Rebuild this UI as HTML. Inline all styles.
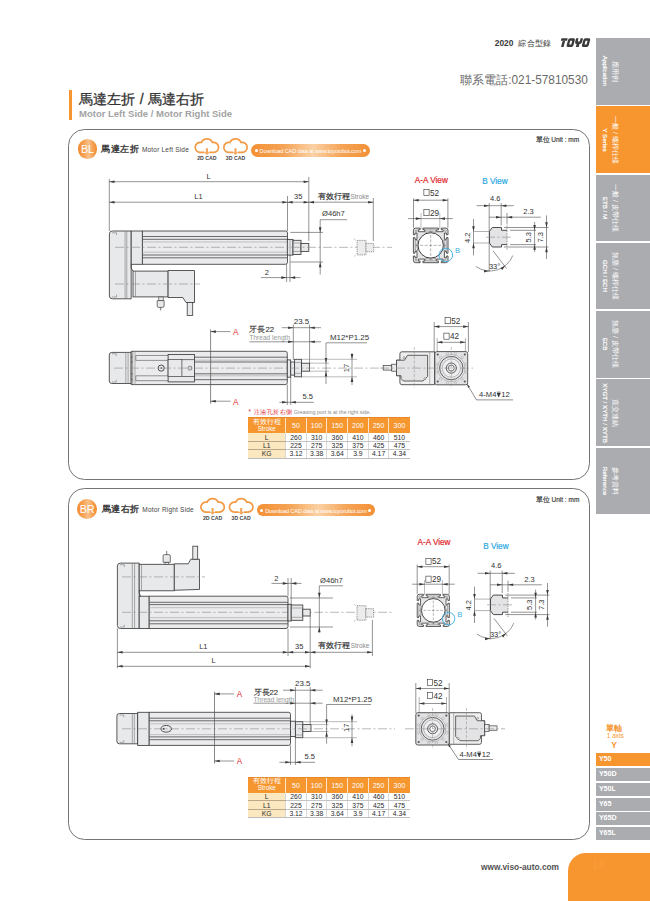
<!DOCTYPE html>
<html><head><meta charset="utf-8">
<style>
*{margin:0;padding:0;box-sizing:border-box}
html,body{width:650px;height:901px;background:#fff;overflow:hidden}
body{position:relative;font-family:"Liberation Sans",sans-serif;color:#333}
.a{position:absolute;white-space:nowrap;line-height:1}
.tab{position:absolute;left:596px;width:54px;height:66.5px;background:#abacaf;color:#fff}
.tab.on{background:#f7952f}
.tab .r{position:absolute;left:14.2px;top:50%;transform:translate(-50%,-50%) rotate(90deg);text-align:center;line-height:10.1px;white-space:nowrap}
.tab .cn{font-size:7px;font-weight:500;display:block;height:10.1px}
.tab .en{font-size:6.2px;display:block;height:10.1px;-webkit-text-stroke:0.2px #fff}
.yl{position:absolute;left:595.6px;width:54.4px;height:13px;background:#abacaf;color:#fff;font-weight:bold;font-size:7.1px;line-height:13.6px;padding-left:3.3px}
.yl.on{background:#f7952f}
.panel{position:absolute;left:68.23px;width:521.5px;height:351.8px;border:1.5px solid #747474;border-radius:16.5px}
.badge{position:absolute;width:19.8px;height:19.8px;border-radius:50%;background:linear-gradient(90deg,#f28a2a 0%,#f5a65c 35%,#f8c08a 55%,#f5a65c 75%,#f28a2a 100%);color:#fff;font-size:10.8px;line-height:20.5px;text-align:center;letter-spacing:-0.3px}
.pill{position:absolute;white-space:nowrap;height:12.5px;border-radius:7px;background:linear-gradient(90deg,#f39034 0%,#f5a457 28%,#fbd1a4 52%,#f5a457 76%,#f39034 100%);color:#fff;font-size:5.6px;letter-spacing:-0.15px;line-height:14px;padding-left:8.6px}
.pill:before,.pill:after{content:"";position:absolute;top:4.8px;width:3px;height:3px;border-radius:50%;background:#fff}
.pill:before{left:3.5px}.pill:after{right:3.5px}
table.t{position:absolute;border-collapse:collapse;font-size:6.8px;color:#2a2a2a}
table.t td{border-left:0.9px solid #d9d9d9;border-bottom:0.9px solid #c4c4c4;text-align:center;padding:0;height:8.3px;line-height:7px;width:20.65px}
table.t td:first-child{border-left:none}
table.t tr.h td{background:#f5962f;color:#fff;height:15.5px;font-size:7px;border-left:0.9px solid #fbe3c8;border-bottom:none;border-top:0.8px solid #e8862a}
table.t tr.h td:first-child{border-left:none}
table.t tr:last-child td{border-bottom:1.8px solid #bdbdbd}
table.t td.f{background:#fce8c0;width:37.4px;border-bottom-color:#bba98a}
table.t tr.h td.f{background:#f5962f;line-height:6.8px;font-size:7px;font-weight:500}
</style></head><body>

<!-- header -->
<div class="a" style="left:494.8px;top:38.6px;font-size:8.4px;font-weight:bold;color:#3a3a3a">2020</div>
<div class="a" style="left:518.4px;top:38.8px;font-size:8.3px;letter-spacing:0.3px;color:#3a3a3a">綜合型錄</div>

<div class="a" style="left:460.2px;top:74.5px;font-size:11.85px;color:#6a6a6a">聯系電話:021-57810530</div>

<!-- title -->
<div class="a" style="left:68.5px;top:90px;width:3.2px;height:30px;background:#f7952f"></div>
<div class="a" style="left:79px;top:92px;font-size:14.15px;letter-spacing:0.15px;font-weight:500;color:#333;-webkit-text-stroke:0.3px #333">馬達左折 / 馬達右折</div>
<div class="a" style="left:79px;top:108.5px;font-size:9.5px;font-weight:bold;color:#a3a3a3">Motor Left Side / Motor Right Side</div>

<!-- sidebar tabs -->
<div class="tab" style="top:38.20px"><div class="r"><span class="cn">應用例</span><span class="en">Application</span></div></div>
<div class="tab on" style="top:106.45px"><div class="r"><span class="cn">一般 / 螺桿仕樣</span><span class="en">Y Series</span></div></div>
<div class="tab" style="top:174.70px"><div class="r"><span class="cn">一般 / 皮帶仕樣</span><span class="en">ETB / M</span></div></div>
<div class="tab" style="top:242.95px"><div class="r"><span class="cn">無塵 / 螺桿仕樣</span><span class="en">GCH / ECH</span></div></div>
<div class="tab" style="top:311.20px"><div class="r"><span class="cn">無塵 / 皮帶仕樣</span><span class="en">ECB</span></div></div>
<div class="tab" style="top:379.45px"><div class="r"><span class="cn">直交連結</span><span class="en">XYGT / XYTH / XYTB</span></div></div>
<div class="tab" style="top:447.70px"><div class="r"><span class="cn">參考資料</span><span class="en">Reference</span></div></div>

<!-- Y list -->
<div class="a" style="left:606px;top:724.5px;font-size:8px;font-weight:bold;color:#f7952f">單軸</div>
<div class="a" style="left:606.8px;top:733.2px;font-size:6.5px;color:#f7952f">1 axis</div>
<div class="a" style="left:611.2px;top:740.5px;font-size:8.5px;font-weight:bold;color:#f7952f">Y</div>
<div class="yl on" style="top:753px">Y50</div>
<div class="yl" style="top:768px">Y50D</div>
<div class="yl" style="top:783px">Y50L</div>
<div class="yl" style="top:797.7px">Y65</div>
<div class="yl" style="top:812.3px">Y65D</div>
<div class="yl" style="top:827px">Y65L</div>

<!-- footer -->
<div class="a" style="left:481px;top:862.5px;font-size:8.36px;font-weight:bold;color:#555">www.viso-auto.com</div>
<div class="a" style="left:568.3px;top:852.5px;width:82px;height:49px;background:#f7952f;border-top-left-radius:18px"></div>
<div class="a" style="left:591.5px;top:858px;font-size:13px;font-weight:bold;color:#f99b38">16</div>

<!-- panels -->
<div class="panel" style="top:128.7px"></div>
<div class="panel" style="top:488.15px"></div>

<!-- panel 1 header -->
<div class="badge" style="left:77.5px;top:139.3px">BL</div>
<div class="a" style="left:101.2px;top:145.4px;font-size:9.2px;letter-spacing:0.5px;font-weight:500;color:#333;-webkit-text-stroke:0.35px #333">馬達左折</div>
<div class="a" style="left:141.9px;top:146.8px;font-size:6.5px;letter-spacing:0.2px;color:#444">Motor Left Side</div>
<div class="pill" style="left:251px;top:144px;width:118.5px">Download CAD data at www.toyorobot.com</div>
<div class="a" style="left:535.5px;top:137px;font-size:6.5px;color:#444;-webkit-text-stroke:0.2px #444">單位 Unit : mm</div>

<!-- panel 2 header -->
<div class="badge" style="left:77.1px;top:499.1px">BR</div>
<div class="a" style="left:101.8px;top:505.2px;font-size:9.2px;letter-spacing:0.5px;font-weight:500;color:#333;-webkit-text-stroke:0.35px #333">馬達右折</div>
<div class="a" style="left:142.3px;top:506.6px;font-size:6.5px;letter-spacing:0.2px;color:#444">Motor Right Side</div>
<div class="pill" style="left:256.6px;top:503.9px;width:118px">Download CAD data at www.toyorobot.com</div>
<div class="a" style="left:535.7px;top:496.7px;font-size:6.5px;color:#444;-webkit-text-stroke:0.2px #444">單位 Unit : mm</div>

<!-- tables -->
<table class="t" style="left:248.3px;top:417.2px">
<tr class="h"><td class="f">有效行程<br><span style="font-size:6.3px;font-weight:normal">Stroke</span></td><td>50</td><td>100</td><td>150</td><td>200</td><td>250</td><td>300</td></tr>
<tr><td class="f">L</td><td>260</td><td>310</td><td>360</td><td>410</td><td>460</td><td>510</td></tr>
<tr><td class="f">L1</td><td>225</td><td>275</td><td>325</td><td>375</td><td>425</td><td>475</td></tr>
<tr><td class="f">KG</td><td>3.12</td><td>3.38</td><td>3.64</td><td>3.9</td><td>4.17</td><td>4.34</td></tr>
</table>
<table class="t" style="left:248.3px;top:776.6px">
<tr class="h"><td class="f">有效行程<br><span style="font-size:6.3px;font-weight:normal">Stroke</span></td><td>50</td><td>100</td><td>150</td><td>200</td><td>250</td><td>300</td></tr>
<tr><td class="f">L</td><td>260</td><td>310</td><td>360</td><td>410</td><td>460</td><td>510</td></tr>
<tr><td class="f">L1</td><td>225</td><td>275</td><td>325</td><td>375</td><td>425</td><td>475</td></tr>
<tr><td class="f">KG</td><td>3.12</td><td>3.38</td><td>3.64</td><td>3.9</td><td>4.17</td><td>4.34</td></tr>
</table>

<!-- DRAWINGS -->
<svg class="a" style="left:0;top:0" width="650" height="901" viewBox="0 0 650 901">
<g font-family="Liberation Sans, sans-serif">
<g transform="translate(561.5 38.3) skewX(-15)" fill="#3a3a3a">
<rect x="0" y="0" width="6.2" height="2.5"/><rect x="1.85" y="2.5" width="2.5" height="6.1"/>
<path fill-rule="evenodd" d="M8.6 0 H12.2 Q13.8 0 13.8 1.6 V7 Q13.8 8.6 12.2 8.6 H8.6 Q7 8.6 7 7 V1.6 Q7 0 8.6 0 Z M9.4 2.4 V6.2 H11.4 V2.4 Z"/>
<path d="M14.6 0 H17 V2.6 Q17 3.3 17.7 3.3 H18.4 Q19.1 3.3 19.1 2.6 V0 H21.5 V3.6 Q21.5 5.6 19.5 5.6 H19.5 V8.6 H16.6 V5.6 Q14.6 5.6 14.6 3.6 Z"/>
<path fill-rule="evenodd" d="M23.9 0 H27.5 Q29.1 0 29.1 1.6 V7 Q29.1 8.6 27.5 8.6 H23.9 Q22.3 8.6 22.3 7 V1.6 Q22.3 0 23.9 0 Z M24.7 2.4 V6.2 H26.7 V2.4 Z"/>
</g>
<g transform="translate(195.20 138.90)">
<path d="M9.3 13.5 H5 A5 5 0 1 1 6.18 3.64 A6 6 0 0 1 17.22 3.64 A5 5 0 1 1 18.4 13.5 H14.1" fill="none" stroke="#f39a45" stroke-width="1.7"/>
<path d="M10.6 9.3 H12.8 V13.4 H14.6 L11.7 16.2 L8.8 13.4 H10.6 Z" fill="#f6a85e"/>
<text x="11.7" y="21.5" font-size="5.2" font-weight="bold" fill="#444" text-anchor="middle">2D CAD</text>
</g>
<g transform="translate(223.80 138.90)">
<path d="M9.3 13.5 H5 A5 5 0 1 1 6.18 3.64 A6 6 0 0 1 17.22 3.64 A5 5 0 1 1 18.4 13.5 H14.1" fill="none" stroke="#f39a45" stroke-width="1.7"/>
<path d="M10.6 9.3 H12.8 V13.4 H14.6 L11.7 16.2 L8.8 13.4 H10.6 Z" fill="#f6a85e"/>
<text x="11.7" y="21.5" font-size="5.2" font-weight="bold" fill="#444" text-anchor="middle">3D CAD</text>
</g>
<g transform="translate(200.90 498.60)">
<path d="M9.3 13.5 H5 A5 5 0 1 1 6.18 3.64 A6 6 0 0 1 17.22 3.64 A5 5 0 1 1 18.4 13.5 H14.1" fill="none" stroke="#f39a45" stroke-width="1.7"/>
<path d="M10.6 9.3 H12.8 V13.4 H14.6 L11.7 16.2 L8.8 13.4 H10.6 Z" fill="#f6a85e"/>
<text x="11.7" y="21.5" font-size="5.2" font-weight="bold" fill="#444" text-anchor="middle">2D CAD</text>
</g>
<g transform="translate(229.50 498.60)">
<path d="M9.3 13.5 H5 A5 5 0 1 1 6.18 3.64 A6 6 0 0 1 17.22 3.64 A5 5 0 1 1 18.4 13.5 H14.1" fill="none" stroke="#f39a45" stroke-width="1.7"/>
<path d="M10.6 9.3 H12.8 V13.4 H14.6 L11.7 16.2 L8.8 13.4 H10.6 Z" fill="#f6a85e"/>
<text x="11.7" y="21.5" font-size="5.2" font-weight="bold" fill="#444" text-anchor="middle">3D CAD</text>
</g>
<path d="M131.2 231 L112.4 231 Q109.4 231 109.4 234 L109.4 295.8 Q109.4 298.8 112.4 298.8 L131.2 298.8 Z" fill="#e8e9eb" stroke="#3c3c3c" stroke-width="0.85" />
<rect x="131.20" y="231.00" width="11.20" height="33.30" fill="#e8e9eb" stroke="#3c3c3c" stroke-width="0.85" />
<path d="M142.4 231 L285.5 231 Q287.5 231 287.5 233 L287.5 262.3 Q287.5 264.3 285.5 264.3 L142.4 264.3 Z" fill="#ebebed" stroke="#3c3c3c" stroke-width="0.85" />
<line x1="142.40" y1="236.50" x2="287.50" y2="236.50" stroke="#505050" stroke-width="0.85" />
<line x1="142.40" y1="239.30" x2="287.50" y2="239.30" stroke="#505050" stroke-width="0.85" />
<line x1="142.40" y1="242.00" x2="287.50" y2="242.00" stroke="#a0a0a0" stroke-width="0.6" />
<line x1="142.40" y1="252.20" x2="287.50" y2="252.20" stroke="#a0a0a0" stroke-width="0.6" />
<line x1="142.40" y1="255.00" x2="287.50" y2="255.00" stroke="#505050" stroke-width="0.85" />
<line x1="142.40" y1="257.80" x2="287.50" y2="257.80" stroke="#505050" stroke-width="0.85" />
<line x1="125.10" y1="231.00" x2="125.10" y2="298.80" stroke="#777" stroke-width="0.6" />
<line x1="126.80" y1="231.00" x2="126.80" y2="298.80" stroke="#777" stroke-width="0.6" />
<path d="M112 232.8 L116.5 232.8 L116.5 235.2" fill="none" stroke="#666" stroke-width="0.5" />
<path d="M112 297 L116.5 297 L116.5 294.6" fill="none" stroke="#666" stroke-width="0.5" />
<rect x="287.30" y="239.40" width="5.70" height="15.70" fill="#e8e9eb" stroke="#3c3c3c" stroke-width="0.85" />
<line x1="290.00" y1="239.40" x2="290.00" y2="255.10" stroke="#666" stroke-width="0.5" />
<rect x="293.00" y="240.30" width="8.00" height="14.20" fill="#e8e9eb" stroke="#3c3c3c" stroke-width="0.85" />
<line x1="293.00" y1="243.00" x2="301.00" y2="243.00" stroke="#666" stroke-width="0.5" />
<line x1="293.00" y1="251.40" x2="301.00" y2="251.40" stroke="#666" stroke-width="0.5" />
<rect x="301.00" y="243.40" width="7.80" height="8.00" fill="#e8e9eb" stroke="#3c3c3c" stroke-width="0.85" />
<rect x="133.00" y="271.10" width="35.10" height="25.80" fill="#e8e9eb" stroke="#3c3c3c" stroke-width="0.85" />
<line x1="135.50" y1="271.10" x2="135.50" y2="296.90" stroke="#777" stroke-width="0.6" />
<path d="M131.2 264.3 L131.2 268 L133 271.1" fill="none" stroke="#3c3c3c" stroke-width="0.85" />
<path d="M168.1 270.5 L194.5 270.5 L194.5 302.5 L186 302.5 L182.8 297.5 L168.1 297.5 Z" fill="#e8e9eb" stroke="#3c3c3c" stroke-width="0.85" />
<rect x="187.20" y="302.50" width="5.50" height="12.90" fill="#e8e9eb" stroke="#3c3c3c" stroke-width="0.8" />
<rect x="158.80" y="297.00" width="4.40" height="3.60" fill="#e8e9eb" stroke="#3c3c3c" stroke-width="0.6" />
<path d="M157.2 300.6 L164.1 300.6 L164.1 306 Q164.1 307.4 162.7 307.4 L158.6 307.4 Q157.2 307.4 157.2 306 Z" fill="#e8e9eb" stroke="#3c3c3c" stroke-width="0.7" />
<line x1="160.70" y1="307.40" x2="160.70" y2="310.50" stroke="#444" stroke-width="0.7" />
<line x1="115.00" y1="247.30" x2="392.00" y2="247.30" stroke="#8a8a8a" stroke-width="0.6" stroke-dasharray="9 2.5 2 2.5"/>
<line x1="115.00" y1="284.00" x2="200.00" y2="284.00" stroke="#8a8a8a" stroke-width="0.6" stroke-dasharray="9 2.5 2 2.5"/>
<rect x="357.10" y="240.40" width="8.90" height="14.50" fill="#ececec" stroke="#707070" stroke-width="0.7" stroke-dasharray="1.3 0.9"/>
<rect x="366.00" y="243.40" width="7.70" height="8.40" fill="#ececec" stroke="#707070" stroke-width="0.7" stroke-dasharray="1.3 0.9"/>
<line x1="354.10" y1="238.80" x2="355.60" y2="240.20" stroke="#777" stroke-width="0.5" />
<line x1="354.10" y1="256.40" x2="355.60" y2="255.00" stroke="#777" stroke-width="0.5" />
<line x1="109.30" y1="179.00" x2="109.30" y2="231.00" stroke="#3a3a3a" stroke-width="0.55" />
<line x1="287.50" y1="196.00" x2="287.50" y2="231.00" stroke="#3a3a3a" stroke-width="0.55" />
<line x1="308.80" y1="177.00" x2="308.80" y2="241.00" stroke="#3a3a3a" stroke-width="0.55" />
<line x1="373.30" y1="198.00" x2="373.30" y2="241.00" stroke="#3a3a3a" stroke-width="0.55" />
<line x1="109.30" y1="181.70" x2="308.80" y2="181.70" stroke="#3a3a3a" stroke-width="0.55" />
<path d="M109.30 181.70L114.50 180.40L114.50 183.00Z" fill="#3a3a3a"/>
<path d="M308.80 181.70L303.60 183.00L303.60 180.40Z" fill="#3a3a3a"/>
<text x="208.70" y="178.80" font-size="7.5" fill="#333" text-anchor="middle" >L</text>
<line x1="109.30" y1="202.20" x2="373.30" y2="202.20" stroke="#3a3a3a" stroke-width="0.55" />
<path d="M109.30 202.20L114.50 200.90L114.50 203.50Z" fill="#3a3a3a"/>
<path d="M287.50 202.20L282.30 203.50L282.30 200.90Z" fill="#3a3a3a"/>
<text x="198.50" y="199.20" font-size="7.5" fill="#333" text-anchor="middle" >L1</text>
<path d="M287.50 202.20L292.70 200.90L292.70 203.50Z" fill="#3a3a3a"/>
<path d="M308.80 202.20L303.60 203.50L303.60 200.90Z" fill="#3a3a3a"/>
<text x="298.20" y="198.90" font-size="7.5" fill="#333" text-anchor="middle" >35</text>
<path d="M308.80 202.20L314.00 200.90L314.00 203.50Z" fill="#3a3a3a"/>
<path d="M373.30 202.20L368.10 203.50L368.10 200.90Z" fill="#3a3a3a"/>
<text x="318" y="199.1" font-size="7.8" fill="#333" stroke="#333" stroke-width="0.2">有效行程<tspan font-size="6.4" fill="#888" stroke="none" dx="0.5">Stroke</tspan></text>
<text x="322.00" y="216.10" font-size="7.6" fill="#333" text-anchor="start" >Ø46h7</text>
<line x1="320.20" y1="219.70" x2="347.00" y2="219.70" stroke="#3a3a3a" stroke-width="0.55" />
<line x1="320.20" y1="219.70" x2="320.20" y2="274.50" stroke="#3a3a3a" stroke-width="0.55" />
<path d="M320.20 232.40L318.90 227.20L321.50 227.20Z" fill="#3a3a3a"/>
<path d="M320.20 262.00L321.50 267.20L318.90 267.20Z" fill="#3a3a3a"/>
<line x1="290.30" y1="232.40" x2="323.00" y2="232.40" stroke="#3a3a3a" stroke-width="0.55" />
<line x1="290.30" y1="262.00" x2="323.00" y2="262.00" stroke="#3a3a3a" stroke-width="0.55" />
<line x1="261.00" y1="277.60" x2="300.50" y2="277.60" stroke="#3a3a3a" stroke-width="0.55" />
<path d="M286.60 277.60L281.40 278.90L281.40 276.30Z" fill="#3a3a3a"/>
<path d="M290.00 277.60L295.20 276.30L295.20 278.90Z" fill="#3a3a3a"/>
<line x1="286.60" y1="264.30" x2="286.60" y2="282.00" stroke="#3a3a3a" stroke-width="0.55" />
<line x1="290.00" y1="255.10" x2="290.00" y2="282.00" stroke="#3a3a3a" stroke-width="0.55" />
<text x="266.80" y="275.20" font-size="7.5" fill="#333" text-anchor="middle" >2</text>
<path d="M131.2 352.4 L111.8 352.4 Q109.3 352.4 109.3 354.9 L109.3 381.0 Q109.3 383.5 111.8 383.5 L131.2 383.5 Z" fill="#e8e9eb" stroke="#3c3c3c" stroke-width="0.85" />
<line x1="125.80" y1="352.40" x2="125.80" y2="383.50" stroke="#777" stroke-width="0.6" />
<line x1="128.10" y1="352.40" x2="128.10" y2="383.50" stroke="#777" stroke-width="0.6" />
<path d="M112 353.8 L116.3 353.8 L116.3 356" fill="none" stroke="#666" stroke-width="0.5" />
<path d="M112 382 L116.3 382 L116.3 379.8" fill="none" stroke="#666" stroke-width="0.5" />
<path d="M131.2 351.3 L285.3 351.3 Q287.3 351.3 287.3 353.3 L287.3 382.6 Q287.3 384.6 285.3 384.6 L131.2 384.6 Z" fill="#ebebed" stroke="#3c3c3c" stroke-width="0.85" />
<line x1="131.20" y1="357.20" x2="287.30" y2="357.20" stroke="#505050" stroke-width="0.85" />
<line x1="131.20" y1="360.20" x2="287.30" y2="360.20" stroke="#a0a0a0" stroke-width="0.6" />
<line x1="131.20" y1="362.00" x2="287.30" y2="362.00" stroke="#505050" stroke-width="0.85" />
<line x1="131.20" y1="373.80" x2="287.30" y2="373.80" stroke="#505050" stroke-width="0.85" />
<line x1="131.20" y1="375.80" x2="287.30" y2="375.80" stroke="#a0a0a0" stroke-width="0.6" />
<line x1="131.20" y1="379.70" x2="287.30" y2="379.70" stroke="#505050" stroke-width="0.85" />
<rect x="132.70" y="355.50" width="35.40" height="25.20" fill="#ebebed" stroke="#3c3c3c" stroke-width="0" />
<line x1="132.70" y1="351.30" x2="132.70" y2="384.60" stroke="#666" stroke-width="0.6" />
<line x1="135.00" y1="351.30" x2="135.00" y2="384.60" stroke="#888" stroke-width="0.6" />
<path d="M168 355.5 L135.8 355.5 L135.8 360.4 L168 360.4" fill="none" stroke="#555" stroke-width="0.6" />
<path d="M168 375.8 L135.8 375.8 L135.8 380.7 L168 380.7" fill="none" stroke="#555" stroke-width="0.6" />
<rect x="168.10" y="354.50" width="26.40" height="27.40" fill="#e9e9eb" stroke="#3c3c3c" stroke-width="0.85" />
<rect x="168.10" y="359.60" width="13.80" height="16.90" fill="#e9e9eb" stroke="#3c3c3c" stroke-width="0.7" />
<line x1="181.90" y1="359.60" x2="194.50" y2="359.60" stroke="#3c3c3c" stroke-width="0.7" />
<line x1="181.90" y1="376.50" x2="194.50" y2="376.50" stroke="#3c3c3c" stroke-width="0.7" />
<circle cx="161.20" cy="368.10" r="3.10" fill="#e8e8e8" stroke="#3c3c3c" stroke-width="0.9" />
<circle cx="161.20" cy="368.10" r="0.80" fill="#444" stroke="#3c3c3c" stroke-width="0" />
<circle cx="189.90" cy="368.10" r="2.00" fill="none" stroke="#3c3c3c" stroke-width="0.6" />
<rect x="287.30" y="359.90" width="3.40" height="17.30" fill="#e8e9eb" stroke="#3c3c3c" stroke-width="0.85" />
<rect x="290.70" y="362.00" width="3.90" height="13.10" fill="#e8e9eb" stroke="#3c3c3c" stroke-width="0.85" />
<rect x="294.60" y="359.30" width="7.00" height="17.50" fill="#e8e9eb" stroke="#3c3c3c" stroke-width="0.85" />
<line x1="294.60" y1="362.50" x2="301.60" y2="362.50" stroke="#666" stroke-width="0.5" />
<line x1="294.60" y1="373.30" x2="301.60" y2="373.30" stroke="#666" stroke-width="0.5" />
<rect x="301.60" y="363.20" width="8.00" height="8.00" fill="#e8e9eb" stroke="#3c3c3c" stroke-width="0.85" />
<line x1="114.00" y1="368.10" x2="395.00" y2="368.10" stroke="#8a8a8a" stroke-width="0.6" stroke-dasharray="9 2.5 2 2.5"/>
<line x1="309.60" y1="363.20" x2="329.00" y2="363.20" stroke="#777" stroke-width="0.5" />
<line x1="309.60" y1="371.20" x2="329.00" y2="371.20" stroke="#777" stroke-width="0.5" />
<line x1="210.60" y1="329.40" x2="210.60" y2="403.70" stroke="#555" stroke-width="0.7" />
<line x1="210.60" y1="331.60" x2="230.50" y2="331.60" stroke="#3a3a3a" stroke-width="0.55" />
<path d="M210.60 331.60L215.80 330.30L215.80 332.90Z" fill="#3a3a3a"/>
<line x1="210.60" y1="401.20" x2="230.50" y2="401.20" stroke="#3a3a3a" stroke-width="0.55" />
<path d="M210.60 401.20L215.80 399.90L215.80 402.50Z" fill="#3a3a3a"/>
<text x="235.80" y="334.90" font-size="8.2" fill="#e2262c" text-anchor="middle" >A</text>
<text x="235.80" y="404.50" font-size="8.2" fill="#e2262c" text-anchor="middle" >A</text>
<line x1="293.30" y1="324.50" x2="293.30" y2="360.00" stroke="#3a3a3a" stroke-width="0.55" />
<line x1="309.60" y1="324.50" x2="309.60" y2="363.20" stroke="#3a3a3a" stroke-width="0.55" />
<line x1="281.80" y1="327.70" x2="321.00" y2="327.70" stroke="#3a3a3a" stroke-width="0.55" />
<path d="M293.30 327.70L288.10 329.00L288.10 326.40Z" fill="#3a3a3a"/>
<path d="M309.60 327.70L314.80 326.40L314.80 329.00Z" fill="#3a3a3a"/>
<text x="301.50" y="323.90" font-size="8" fill="#333" text-anchor="middle" >23.5</text>
<text x="249.40" y="332.00" font-size="7.8" fill="#333" text-anchor="start" stroke="#333" stroke-width="0.1">牙長22</text>
<text x="249.40" y="339.60" font-size="6.6" fill="#999" text-anchor="start" >Thread length</text>
<line x1="249.40" y1="341.80" x2="321.00" y2="341.80" stroke="#3a3a3a" stroke-width="0.55" />
<path d="M293.30 341.80L288.10 343.10L288.10 340.50Z" fill="#3a3a3a"/>
<path d="M309.60 341.80L314.80 340.50L314.80 343.10Z" fill="#3a3a3a"/>
<text x="330.00" y="340.40" font-size="7.9" fill="#333" text-anchor="start" >M12*P1.25</text>
<line x1="326.00" y1="342.80" x2="367.00" y2="342.80" stroke="#3a3a3a" stroke-width="0.55" />
<line x1="326.00" y1="343.00" x2="326.00" y2="384.00" stroke="#3a3a3a" stroke-width="0.55" />
<path d="M326.00 363.20L324.70 358.00L327.30 358.00Z" fill="#3a3a3a"/>
<path d="M326.00 371.20L327.30 376.40L324.70 376.40Z" fill="#3a3a3a"/>
<line x1="301.00" y1="359.30" x2="357.00" y2="359.30" stroke="#777" stroke-width="0.5" />
<line x1="301.00" y1="376.80" x2="357.00" y2="376.80" stroke="#777" stroke-width="0.5" />
<line x1="352.00" y1="353.00" x2="352.00" y2="385.00" stroke="#3a3a3a" stroke-width="0.55" />
<path d="M352.00 359.30L350.70 354.10L353.30 354.10Z" fill="#3a3a3a"/>
<path d="M352.00 376.80L353.30 382.00L350.70 382.00Z" fill="#3a3a3a"/>
<text x="349.00" y="368.00" font-size="7.5" fill="#333" text-anchor="middle" transform="rotate(-90 349.00 368.00)">17</text>
<line x1="287.30" y1="384.60" x2="287.30" y2="405.00" stroke="#3a3a3a" stroke-width="0.55" />
<line x1="290.70" y1="377.00" x2="290.70" y2="405.00" stroke="#3a3a3a" stroke-width="0.55" />
<line x1="279.40" y1="402.30" x2="313.80" y2="402.30" stroke="#3a3a3a" stroke-width="0.55" />
<path d="M287.30 402.30L282.10 403.60L282.10 401.00Z" fill="#3a3a3a"/>
<path d="M290.70 402.30L295.90 401.00L295.90 403.60Z" fill="#3a3a3a"/>
<text x="307.70" y="399.30" font-size="7.5" fill="#333" text-anchor="middle" >5.5</text>
<text x="431.30" y="182.50" font-size="8.2" fill="#e2262c" text-anchor="middle" stroke="#e2262c" stroke-width="0.2">A-A View</text>
<rect x="423.87" y="189.53" width="5.25" height="6.07" fill="none" stroke="#333" stroke-width="0.6"/>
<text x="430.01" y="195.60" font-size="8.2" fill="#333" text-anchor="start" >52</text>
<line x1="413.50" y1="198.30" x2="413.50" y2="227.80" stroke="#3a3a3a" stroke-width="0.55" />
<line x1="447.90" y1="198.30" x2="447.90" y2="227.80" stroke="#3a3a3a" stroke-width="0.55" />
<line x1="413.50" y1="200.20" x2="447.90" y2="200.20" stroke="#3a3a3a" stroke-width="0.55" />
<path d="M413.50 200.20L418.70 198.90L418.70 201.50Z" fill="#3a3a3a"/>
<path d="M447.90 200.20L442.70 201.50L442.70 198.90Z" fill="#3a3a3a"/>
<rect x="423.87" y="209.63" width="5.25" height="6.07" fill="none" stroke="#333" stroke-width="0.6"/>
<text x="430.01" y="215.70" font-size="8.2" fill="#333" text-anchor="start" >29</text>
<line x1="421.00" y1="213.00" x2="421.00" y2="229.00" stroke="#777" stroke-width="0.5" />
<line x1="439.80" y1="213.00" x2="439.80" y2="229.00" stroke="#777" stroke-width="0.5" />
<line x1="408.00" y1="218.60" x2="452.80" y2="218.60" stroke="#3a3a3a" stroke-width="0.55" />
<path d="M421.00 218.60L415.80 219.90L415.80 217.30Z" fill="#3a3a3a"/>
<path d="M439.80 218.60L445.00 217.30L445.00 219.90Z" fill="#3a3a3a"/>
<path d="M415.60 228.10L420.10 228.10L420.10 229.70L418.30 229.70L418.30 231.70L424.70 231.70L424.70 229.70L422.90 229.70L422.90 228.10L438.50 228.10L438.50 229.70L436.70 229.70L436.70 231.70L443.10 231.70L443.10 229.70L441.30 229.70L441.30 228.10L445.80 228.10Q448.00 228.10 448.00 230.30L448.00 234.80L446.40 234.80L446.40 233.00L444.40 233.00L444.40 239.40L446.40 239.40L446.40 237.60L448.00 237.60L448.00 253.20L446.40 253.20L446.40 251.40L444.40 251.40L444.40 257.80L446.40 257.80L446.40 256.00L448.00 256.00L448.00 260.50Q448.00 262.70 445.80 262.70L441.30 262.70L441.30 261.10L443.10 261.10L443.10 259.10L436.70 259.10L436.70 261.10L438.50 261.10L438.50 262.70L422.90 262.70L422.90 261.10L424.70 261.10L424.70 259.10L418.30 259.10L418.30 261.10L420.10 261.10L420.10 262.70L415.60 262.70Q413.40 262.70 413.40 260.50L413.40 256.00L415.00 256.00L415.00 257.80L417.00 257.80L417.00 251.40L415.00 251.40L415.00 253.20L413.40 253.20L413.40 237.60L415.00 237.60L415.00 239.40L417.00 239.40L417.00 233.00L415.00 233.00L415.00 234.80L413.40 234.80L413.40 230.30Q413.40 228.10 415.60 228.10Z" fill="#e6e6e8" stroke="#3c3c3c" stroke-width="0.85" />
<circle cx="430.70" cy="245.40" r="12.70" fill="#fff" stroke="#3c3c3c" stroke-width="1.0" />
<path d="M425.70 230.00 L435.70 230.00 L435.70 232.32 A14.0 14.0 0 0 0 425.70 232.32 Z" stroke="#555" stroke-width="0.55" fill="#fff"/>
<circle cx="416.00" cy="230.70" r="0.90" fill="#fff" stroke="#555" stroke-width="0.5" />
<path d="M446.10 240.40 L446.10 250.40 L443.78 250.40 A14.0 14.0 0 0 0 443.78 240.40 Z" stroke="#555" stroke-width="0.55" fill="#fff"/>
<circle cx="445.40" cy="230.70" r="0.90" fill="#fff" stroke="#555" stroke-width="0.5" />
<path d="M435.70 260.80 L425.70 260.80 L425.70 258.48 A14.0 14.0 0 0 0 435.70 258.48 Z" stroke="#555" stroke-width="0.55" fill="#fff"/>
<circle cx="445.40" cy="260.10" r="0.90" fill="#fff" stroke="#555" stroke-width="0.5" />
<path d="M415.30 250.40 L415.30 240.40 L417.62 240.40 A14.0 14.0 0 0 0 417.62 250.40 Z" stroke="#555" stroke-width="0.55" fill="#fff"/>
<circle cx="416.00" cy="260.10" r="0.90" fill="#fff" stroke="#555" stroke-width="0.5" />
<line x1="415.70" y1="245.40" x2="445.70" y2="245.40" stroke="#666" stroke-width="0.5" stroke-dasharray="3 1.5"/>
<line x1="430.70" y1="230.40" x2="430.70" y2="260.40" stroke="#666" stroke-width="0.5" stroke-dasharray="3 1.5"/>
<circle cx="445.80" cy="255.00" r="6.80" fill="none" stroke="#3aaee0" stroke-width="0.9" />
<text x="455.00" y="252.60" font-size="7.6" fill="#3aaee0" text-anchor="start" >B</text>
<text x="494.90" y="184.30" font-size="8.2" fill="#2aa8e0" text-anchor="middle" stroke="#2aa8e0" stroke-width="0.2">B View</text>
<g transform="translate(0 0)">
<text x="495.20" y="200.80" font-size="7.5" fill="#333" text-anchor="middle" >4.6</text>
<line x1="476.60" y1="205.70" x2="513.80" y2="205.70" stroke="#3a3a3a" stroke-width="0.55" />
<path d="M489.20 205.70L484.00 207.00L484.00 204.40Z" fill="#3a3a3a"/>
<path d="M501.20 205.70L506.40 204.40L506.40 207.00Z" fill="#3a3a3a"/>
<line x1="489.20" y1="203.00" x2="489.20" y2="272.00" stroke="#3a3a3a" stroke-width="0.55" />
<line x1="501.20" y1="203.00" x2="501.20" y2="225.50" stroke="#3a3a3a" stroke-width="0.55" />
<text x="528.50" y="214.40" font-size="7.5" fill="#333" text-anchor="middle" >2.3</text>
<line x1="489.20" y1="217.20" x2="540.80" y2="217.20" stroke="#3a3a3a" stroke-width="0.55" />
<path d="M501.20 217.20L496.00 218.50L496.00 215.90Z" fill="#3a3a3a"/>
<path d="M507.00 217.20L512.20 215.90L512.20 218.50Z" fill="#3a3a3a"/>
<line x1="507.00" y1="213.00" x2="507.00" y2="223.00" stroke="#3a3a3a" stroke-width="0.55" />
<path d="M507.1 230.3 L501.5 230.3 L501.5 227.5 L492.3 227.5 L489.5 231.4 L489.5 243.1 L492.3 247 L501.5 247 L501.5 244.6 L507.1 244.6 Z" fill="#e4e4e6" stroke="none"/>
<path d="M507.1 230.3 L501.5 230.3 L501.5 227.5 L492.3 227.5 L489.5 231.4 L489.5 243.1 L492.3 247 L501.5 247 L501.5 244.6 L507.1 244.6" fill="none" stroke="#3c3c3c" stroke-width="0.9"/>
<line x1="507.00" y1="223.00" x2="507.00" y2="250.00" stroke="#555" stroke-width="0.55" stroke-dasharray="1.5 1"/>
<line x1="504.00" y1="227.50" x2="548.50" y2="227.50" stroke="#3a3a3a" stroke-width="0.55" />
<line x1="504.00" y1="247.00" x2="548.50" y2="247.00" stroke="#3a3a3a" stroke-width="0.55" />
<line x1="510.00" y1="230.30" x2="536.00" y2="230.30" stroke="#3a3a3a" stroke-width="0.55" />
<line x1="510.00" y1="244.60" x2="536.00" y2="244.60" stroke="#3a3a3a" stroke-width="0.55" />
<line x1="534.60" y1="222.00" x2="534.60" y2="252.00" stroke="#3a3a3a" stroke-width="0.55" />
<path d="M534.60 230.30L533.30 225.10L535.90 225.10Z" fill="#3a3a3a"/>
<path d="M534.60 244.60L535.90 249.80L533.30 249.80Z" fill="#3a3a3a"/>
<text x="531.50" y="237.20" font-size="7.5" fill="#333" text-anchor="middle" transform="rotate(-90 531.50 237.20)">5.3</text>
<line x1="546.50" y1="215.40" x2="546.50" y2="259.00" stroke="#3a3a3a" stroke-width="0.55" />
<path d="M546.50 227.50L545.20 222.30L547.80 222.30Z" fill="#3a3a3a"/>
<path d="M546.50 247.00L547.80 252.20L545.20 252.20Z" fill="#3a3a3a"/>
<text x="543.20" y="237.20" font-size="7.5" fill="#333" text-anchor="middle" transform="rotate(-90 543.20 237.20)">7.3</text>
<line x1="473.50" y1="219.00" x2="473.50" y2="255.40" stroke="#3a3a3a" stroke-width="0.55" />
<path d="M473.50 231.50L472.20 226.30L474.80 226.30Z" fill="#3a3a3a"/>
<path d="M473.50 243.00L474.80 248.20L472.20 248.20Z" fill="#3a3a3a"/>
<line x1="473.50" y1="231.50" x2="489.00" y2="231.50" stroke="#666" stroke-width="0.5" />
<line x1="473.50" y1="243.00" x2="489.00" y2="243.00" stroke="#666" stroke-width="0.5" />
<text x="470.50" y="237.70" font-size="7.5" fill="#333" text-anchor="middle" transform="rotate(-90 470.50 237.70)">4.2</text>
<line x1="486.00" y1="237.20" x2="512.00" y2="237.20" stroke="#8a8a8a" stroke-width="0.6" stroke-dasharray="9 2.5 2 2.5"/>
<path d="M475.9 266.5 A24.5 24.5 0 0 0 512.8 255.5" fill="none" stroke="#444" stroke-width="0.55"/>
<path d="M489.20 271.00L484.07 272.56L483.94 269.96Z" fill="#3a3a3a"/>
<path d="M505.30 265.50L502.26 269.91L500.54 267.96Z" fill="#3a3a3a"/>
<line x1="493.00" y1="250.80" x2="506.50" y2="268.50" stroke="#3a3a3a" stroke-width="0.55" />
<text x="494.60" y="269.00" font-size="7.5" fill="#333" text-anchor="middle" >33°</text>
</g>
<rect x="445.07" y="317.63" width="5.25" height="6.07" fill="none" stroke="#333" stroke-width="0.6"/>
<text x="451.21" y="323.70" font-size="8.2" fill="#333" text-anchor="start" >52</text>
<line x1="434.20" y1="322.00" x2="434.20" y2="352.00" stroke="#3a3a3a" stroke-width="0.55" />
<line x1="468.40" y1="322.00" x2="468.40" y2="352.00" stroke="#3a3a3a" stroke-width="0.55" />
<line x1="434.20" y1="326.60" x2="468.40" y2="326.60" stroke="#3a3a3a" stroke-width="0.55" />
<path d="M434.20 326.60L439.40 325.30L439.40 327.90Z" fill="#3a3a3a"/>
<path d="M468.40 326.60L463.20 327.90L463.20 325.30Z" fill="#3a3a3a"/>
<rect x="443.87" y="333.13" width="5.25" height="6.07" fill="none" stroke="#333" stroke-width="0.6"/>
<text x="450.01" y="339.20" font-size="8.2" fill="#333" text-anchor="start" >42</text>
<line x1="437.20" y1="338.00" x2="437.20" y2="356.00" stroke="#666" stroke-width="0.5" />
<line x1="465.40" y1="338.00" x2="465.40" y2="356.00" stroke="#666" stroke-width="0.5" />
<line x1="437.20" y1="342.30" x2="465.40" y2="342.30" stroke="#3a3a3a" stroke-width="0.55" />
<path d="M437.20 342.30L442.40 341.00L442.40 343.60Z" fill="#3a3a3a"/>
<path d="M465.40 342.30L460.20 343.60L460.20 341.00Z" fill="#3a3a3a"/>
<path d="M401.9 351.8 H434.5 V384.7 H401.9 Q399.9 384.7 399.9 382.7 V375.7 H396.5 V360.2 H399.9 V353.8 Q399.9 351.8 401.9 351.8 Z" fill="#efeff0" stroke="#3c3c3c" stroke-width="0.85" />
<path d="M427.6 355.3 V376.5 L423 381 H403.4 L401 378.5 V375.7 H396.5 V360.2 H404.5 L407.5 355.3 Z" fill="#e3e3e5" stroke="#3c3c3c" stroke-width="0.8" />
<circle cx="404.00" cy="357.60" r="1.00" fill="#fff" stroke="#555" stroke-width="0.5" />
<circle cx="424.90" cy="378.80" r="1.00" fill="#fff" stroke="#555" stroke-width="0.5" />
<line x1="429.70" y1="351.80" x2="429.70" y2="384.70" stroke="#888" stroke-width="0.6" />
<rect x="391.70" y="364.20" width="4.80" height="7.00" fill="#e8e9eb" stroke="#3c3c3c" stroke-width="0.7" />
<rect x="383.20" y="365.50" width="8.50" height="4.60" fill="#e8e9eb" stroke="#3c3c3c" stroke-width="0.7" />
<rect x="434.8" y="351.6" width="32.9" height="33.2" rx="2" fill="#e2e2e4" stroke="#474747" stroke-width="0.9"/>
<circle cx="451.30" cy="368.10" r="13.60" fill="#ececee" stroke="#888" stroke-width="0.5" />
<circle cx="451.30" cy="368.10" r="11.70" fill="#e4e4e6" stroke="#3c3c3c" stroke-width="0.8" />
<circle cx="451.30" cy="368.10" r="9.10" fill="#efeff1" stroke="#888" stroke-width="0.5" />
<circle cx="451.30" cy="368.10" r="5.10" fill="#e6e6e8" stroke="#3c3c3c" stroke-width="0.8" />
<circle cx="451.30" cy="368.10" r="2.90" fill="#fff" stroke="#3c3c3c" stroke-width="0.7" />
<circle cx="465.98" cy="372.03" r="1.30" fill="none" stroke="#999" stroke-width="0.4" />
<circle cx="462.05" cy="378.85" r="1.30" fill="none" stroke="#999" stroke-width="0.4" />
<circle cx="455.23" cy="382.78" r="1.30" fill="none" stroke="#999" stroke-width="0.4" />
<circle cx="447.37" cy="382.78" r="1.30" fill="none" stroke="#999" stroke-width="0.4" />
<circle cx="440.55" cy="378.85" r="1.30" fill="none" stroke="#999" stroke-width="0.4" />
<circle cx="436.62" cy="372.03" r="1.30" fill="none" stroke="#999" stroke-width="0.4" />
<circle cx="436.62" cy="364.17" r="1.30" fill="none" stroke="#999" stroke-width="0.4" />
<circle cx="440.55" cy="357.35" r="1.30" fill="none" stroke="#999" stroke-width="0.4" />
<circle cx="447.37" cy="353.42" r="1.30" fill="none" stroke="#999" stroke-width="0.4" />
<circle cx="455.23" cy="353.42" r="1.30" fill="none" stroke="#999" stroke-width="0.4" />
<circle cx="462.05" cy="357.35" r="1.30" fill="none" stroke="#999" stroke-width="0.4" />
<circle cx="465.98" cy="364.17" r="1.30" fill="none" stroke="#999" stroke-width="0.4" />
<circle cx="437.70" cy="354.50" r="1.10" fill="#555" stroke="#3c3c3c" stroke-width="0" />
<circle cx="464.80" cy="354.50" r="1.10" fill="#555" stroke="#3c3c3c" stroke-width="0" />
<circle cx="437.70" cy="381.50" r="1.10" fill="#555" stroke="#3c3c3c" stroke-width="0" />
<circle cx="464.80" cy="381.50" r="1.10" fill="#555" stroke="#3c3c3c" stroke-width="0" />
<line x1="380.00" y1="368.10" x2="473.00" y2="368.10" stroke="#8a8a8a" stroke-width="0.6" stroke-dasharray="9 2.5 2 2.5"/>
<line x1="414.30" y1="347.00" x2="414.30" y2="388.00" stroke="#888" stroke-width="0.5" stroke-dasharray="3 1.5"/>
<line x1="451.30" y1="347.00" x2="451.30" y2="388.00" stroke="#888" stroke-width="0.5" stroke-dasharray="3 1.5"/>
<path d="M467.2 384.3 L476.5 399.9 L513 399.9" fill="none" stroke="#444" stroke-width="0.6"/>
<path d="M467.20 384.30L469.93 386.75L468.04 387.87Z" fill="#3a3a3a"/>
<text x="479.10" y="397.30" font-size="7.6" fill="#333" text-anchor="start" >4-M4</text>
<path d="M496.91 392.00 H500.51 M497.01 393.00 H500.41 L498.71 397.10 Z" fill="#333" stroke="#333" stroke-width="0.5"/>
<text x="501.21" y="397.30" font-size="7.6" fill="#333" text-anchor="start" >12</text>
<text x="248.6" y="414.1" font-size="6.3" fill="#e2262c" letter-spacing="0.5">* 注油孔於右側<tspan fill="#8a8a8a" stroke="none" font-size="5.35" dx="1" letter-spacing="0">Greasing port is at the right side.</tspan></text>
<path d="M139.2 563.1 L120.4 563.1 Q117.4 563.1 117.4 566.1 L117.4 625.5 Q117.4 628.5 120.4 628.5 L139.2 628.5 Z" fill="#e8e9eb" stroke="#3c3c3c" stroke-width="0.85" />
<line x1="132.30" y1="563.10" x2="132.30" y2="628.50" stroke="#777" stroke-width="0.6" />
<line x1="134.60" y1="563.10" x2="134.60" y2="628.50" stroke="#777" stroke-width="0.6" />
<path d="M120 564.7 L124.3 564.7 L124.3 567" fill="none" stroke="#666" stroke-width="0.5" />
<path d="M120 627 L124.3 627 L124.3 624.7" fill="none" stroke="#666" stroke-width="0.5" />
<rect x="139.20" y="596.20" width="10.00" height="32.30" fill="#e8e9eb" stroke="#3c3c3c" stroke-width="0.85" />
<path d="M149.2 596.2 L286 596.2 Q288 596.2 288 598.2 L288 626.5 Q288 628.5 286 628.5 L149.2 628.5 Z" fill="#ebebed" stroke="#3c3c3c" stroke-width="0.85" />
<line x1="149.20" y1="602.30" x2="288.00" y2="602.30" stroke="#505050" stroke-width="0.85" />
<line x1="149.20" y1="604.60" x2="288.00" y2="604.60" stroke="#505050" stroke-width="0.85" />
<line x1="149.20" y1="607.70" x2="288.00" y2="607.70" stroke="#a0a0a0" stroke-width="0.6" />
<line x1="149.20" y1="617.70" x2="288.00" y2="617.70" stroke="#a0a0a0" stroke-width="0.6" />
<line x1="149.20" y1="620.80" x2="288.00" y2="620.80" stroke="#505050" stroke-width="0.85" />
<line x1="149.20" y1="623.80" x2="288.00" y2="623.80" stroke="#505050" stroke-width="0.85" />
<rect x="139.20" y="564.30" width="35.10" height="26.50" fill="#e8e9eb" stroke="#3c3c3c" stroke-width="0.85" />
<line x1="141.50" y1="564.30" x2="141.50" y2="590.80" stroke="#777" stroke-width="0.6" />
<path d="M139.2 590.8 L139.2 593 L140.5 596.2" fill="none" stroke="#3c3c3c" stroke-width="0.85" />
<path d="M174.3 563.8 L188.2 563.8 L190.8 559.2 L199.5 559.2 L199.5 589.4 L174.3 590.3 Z" fill="#e8e9eb" stroke="#3c3c3c" stroke-width="0.85" />
<rect x="192.80" y="546.20" width="4.90" height="13.00" fill="#e8e9eb" stroke="#3c3c3c" stroke-width="0.8" />
<rect x="165.00" y="562.30" width="3.50" height="2.00" fill="#e8e9eb" stroke="#3c3c3c" stroke-width="0.6" />
<path d="M163.1 562.3 L170.3 562.3 L170.3 556 Q170.3 554.6 168.9 554.6 L164.5 554.6 Q163.1 554.6 163.1 556 Z" fill="#e8e9eb" stroke="#3c3c3c" stroke-width="0.7" />
<line x1="166.70" y1="551.00" x2="166.70" y2="554.60" stroke="#444" stroke-width="0.7" />
<line x1="122.00" y1="576.90" x2="205.00" y2="576.90" stroke="#8a8a8a" stroke-width="0.6" stroke-dasharray="9 2.5 2 2.5"/>
<line x1="122.00" y1="612.30" x2="392.00" y2="612.30" stroke="#8a8a8a" stroke-width="0.6" stroke-dasharray="9 2.5 2 2.5"/>
<rect x="288.00" y="604.30" width="3.20" height="16.70" fill="#e8e9eb" stroke="#3c3c3c" stroke-width="0.85" />
<rect x="291.20" y="605.00" width="11.60" height="15.30" fill="#e8e9eb" stroke="#3c3c3c" stroke-width="0.85" />
<line x1="291.20" y1="608.00" x2="302.80" y2="608.00" stroke="#666" stroke-width="0.5" />
<line x1="291.20" y1="617.30" x2="302.80" y2="617.30" stroke="#666" stroke-width="0.5" />
<rect x="302.80" y="609.20" width="7.40" height="6.80" fill="#e8e9eb" stroke="#3c3c3c" stroke-width="0.85" />
<rect x="357.00" y="605.70" width="8.90" height="14.50" fill="#ececec" stroke="#707070" stroke-width="0.7" stroke-dasharray="1.3 0.9"/>
<rect x="365.90" y="608.70" width="7.70" height="8.40" fill="#ececec" stroke="#707070" stroke-width="0.7" stroke-dasharray="1.3 0.9"/>
<line x1="354.00" y1="604.10" x2="355.50" y2="605.50" stroke="#777" stroke-width="0.5" />
<line x1="354.00" y1="621.70" x2="355.50" y2="620.30" stroke="#777" stroke-width="0.5" />
<line x1="117.40" y1="628.50" x2="117.40" y2="668.30" stroke="#3a3a3a" stroke-width="0.55" />
<line x1="288.00" y1="629.00" x2="288.00" y2="656.00" stroke="#3a3a3a" stroke-width="0.55" />
<line x1="310.20" y1="616.00" x2="310.20" y2="668.30" stroke="#3a3a3a" stroke-width="0.55" />
<line x1="372.40" y1="620.00" x2="372.40" y2="656.00" stroke="#3a3a3a" stroke-width="0.55" />
<line x1="117.40" y1="652.30" x2="372.40" y2="652.30" stroke="#3a3a3a" stroke-width="0.55" />
<path d="M117.40 652.30L122.60 651.00L122.60 653.60Z" fill="#3a3a3a"/>
<path d="M288.00 652.30L282.80 653.60L282.80 651.00Z" fill="#3a3a3a"/>
<path d="M288.00 652.30L293.20 651.00L293.20 653.60Z" fill="#3a3a3a"/>
<path d="M310.20 652.30L305.00 653.60L305.00 651.00Z" fill="#3a3a3a"/>
<path d="M310.20 652.30L315.40 651.00L315.40 653.60Z" fill="#3a3a3a"/>
<path d="M372.40 652.30L367.20 653.60L367.20 651.00Z" fill="#3a3a3a"/>
<text x="203.30" y="648.50" font-size="7.5" fill="#333" text-anchor="middle" >L1</text>
<text x="299.20" y="649.00" font-size="7.5" fill="#333" text-anchor="middle" >35</text>
<text x="318.3" y="647.8" font-size="7.8" fill="#333" stroke="#333" stroke-width="0.2">有效行程<tspan font-size="6.4" fill="#888" stroke="none" dx="0.5">Stroke</tspan></text>
<line x1="117.40" y1="666.30" x2="310.20" y2="666.30" stroke="#3a3a3a" stroke-width="0.55" />
<path d="M117.40 666.30L122.60 665.00L122.60 667.60Z" fill="#3a3a3a"/>
<path d="M310.20 666.30L305.00 667.60L305.00 665.00Z" fill="#3a3a3a"/>
<text x="213.70" y="663.20" font-size="7.5" fill="#333" text-anchor="middle" >L</text>
<text x="276.40" y="580.50" font-size="7.5" fill="#333" text-anchor="middle" >2</text>
<line x1="271.50" y1="583.40" x2="301.50" y2="583.40" stroke="#3a3a3a" stroke-width="0.55" />
<path d="M288.00 583.40L282.80 584.70L282.80 582.10Z" fill="#3a3a3a"/>
<path d="M291.20 583.40L296.40 582.10L296.40 584.70Z" fill="#3a3a3a"/>
<line x1="288.00" y1="578.00" x2="288.00" y2="596.20" stroke="#3a3a3a" stroke-width="0.55" />
<line x1="291.20" y1="578.00" x2="291.20" y2="604.30" stroke="#3a3a3a" stroke-width="0.55" />
<text x="320.00" y="582.50" font-size="7.6" fill="#333" text-anchor="start" >Ø46h7</text>
<line x1="319.30" y1="585.80" x2="343.00" y2="585.80" stroke="#3a3a3a" stroke-width="0.55" />
<line x1="319.30" y1="585.80" x2="319.30" y2="632.60" stroke="#3a3a3a" stroke-width="0.55" />
<path d="M319.30 598.00L318.00 592.80L320.60 592.80Z" fill="#3a3a3a"/>
<path d="M319.30 627.00L320.60 632.20L318.00 632.20Z" fill="#3a3a3a"/>
<line x1="290.00" y1="598.00" x2="333.00" y2="598.00" stroke="#3a3a3a" stroke-width="0.55" />
<line x1="290.00" y1="627.00" x2="333.00" y2="627.00" stroke="#3a3a3a" stroke-width="0.55" />
<path d="M137.7 713.5 L119.4 713.5 Q116.9 713.5 116.9 716.0 L116.9 741.3 Q116.9 743.8 119.4 743.8 L137.7 743.8 Z" fill="#e8e9eb" stroke="#3c3c3c" stroke-width="0.85" />
<line x1="132.30" y1="713.50" x2="132.30" y2="743.80" stroke="#777" stroke-width="0.6" />
<line x1="134.30" y1="713.50" x2="134.30" y2="743.80" stroke="#777" stroke-width="0.6" />
<path d="M119.5 715 L123.8 715 L123.8 717.2" fill="none" stroke="#666" stroke-width="0.5" />
<path d="M119.5 742.3 L123.8 742.3 L123.8 740.1" fill="none" stroke="#666" stroke-width="0.5" />
<rect x="137.70" y="712.30" width="11.50" height="33.10" fill="#e8e9eb" stroke="#3c3c3c" stroke-width="0.85" />
<path d="M149.2 712.3 L288.5 712.3 Q290.5 712.3 290.5 714.3 L290.5 743.4 Q290.5 745.4 288.5 745.4 L149.2 745.4 Z" fill="#ebebed" stroke="#3c3c3c" stroke-width="0.85" />
<line x1="149.20" y1="718.20" x2="290.50" y2="718.20" stroke="#505050" stroke-width="0.85" />
<line x1="149.20" y1="720.80" x2="290.50" y2="720.80" stroke="#505050" stroke-width="0.85" />
<line x1="149.20" y1="723.80" x2="290.50" y2="723.80" stroke="#a0a0a0" stroke-width="0.6" />
<line x1="149.20" y1="734.60" x2="290.50" y2="734.60" stroke="#a0a0a0" stroke-width="0.6" />
<line x1="149.20" y1="736.90" x2="290.50" y2="736.90" stroke="#505050" stroke-width="0.85" />
<line x1="149.20" y1="739.70" x2="290.50" y2="739.70" stroke="#505050" stroke-width="0.85" />
<ellipse cx="166.2" cy="728.8" rx="5.4" ry="3.4" fill="#e6e6e8" stroke="#474747" stroke-width="0.9"/>
<circle cx="163.80" cy="728.80" r="0.90" fill="#333" stroke="#3c3c3c" stroke-width="0" />
<rect x="290.50" y="721.20" width="4.90" height="15.30" fill="#e8e9eb" stroke="#3c3c3c" stroke-width="0.85" />
<rect x="295.40" y="721.70" width="7.40" height="16.00" fill="#e8e9eb" stroke="#3c3c3c" stroke-width="0.85" />
<line x1="295.40" y1="724.50" x2="302.80" y2="724.50" stroke="#666" stroke-width="0.5" />
<line x1="295.40" y1="735.00" x2="302.80" y2="735.00" stroke="#666" stroke-width="0.5" />
<rect x="302.80" y="724.60" width="8.20" height="6.90" fill="#e8e9eb" stroke="#3c3c3c" stroke-width="0.85" />
<line x1="122.00" y1="728.80" x2="395.00" y2="728.80" stroke="#8a8a8a" stroke-width="0.6" stroke-dasharray="9 2.5 2 2.5"/>
<line x1="311.00" y1="724.60" x2="328.60" y2="724.60" stroke="#777" stroke-width="0.5" />
<line x1="311.00" y1="731.50" x2="328.60" y2="731.50" stroke="#777" stroke-width="0.5" />
<line x1="214.50" y1="691.70" x2="214.50" y2="763.50" stroke="#555" stroke-width="0.7" />
<line x1="214.50" y1="693.90" x2="234.00" y2="693.90" stroke="#3a3a3a" stroke-width="0.55" />
<path d="M214.50 693.90L219.70 692.60L219.70 695.20Z" fill="#3a3a3a"/>
<line x1="214.50" y1="761.00" x2="234.00" y2="761.00" stroke="#3a3a3a" stroke-width="0.55" />
<path d="M214.50 761.00L219.70 759.70L219.70 762.30Z" fill="#3a3a3a"/>
<text x="239.60" y="697.30" font-size="8.2" fill="#e2262c" text-anchor="middle" >A</text>
<text x="239.60" y="764.30" font-size="8.2" fill="#e2262c" text-anchor="middle" >A</text>
<line x1="295.40" y1="687.00" x2="295.40" y2="721.00" stroke="#3a3a3a" stroke-width="0.55" />
<line x1="310.20" y1="687.00" x2="310.20" y2="724.60" stroke="#3a3a3a" stroke-width="0.55" />
<line x1="283.00" y1="690.20" x2="322.50" y2="690.20" stroke="#3a3a3a" stroke-width="0.55" />
<path d="M295.40 690.20L290.20 691.50L290.20 688.90Z" fill="#3a3a3a"/>
<path d="M310.20 690.20L315.40 688.90L315.40 691.50Z" fill="#3a3a3a"/>
<text x="302.80" y="686.00" font-size="8" fill="#333" text-anchor="middle" >23.5</text>
<text x="253.50" y="694.50" font-size="7.8" fill="#333" text-anchor="start" stroke="#333" stroke-width="0.1">牙長22</text>
<text x="253.50" y="701.80" font-size="6.6" fill="#999" text-anchor="start" >Thread length</text>
<line x1="253.50" y1="703.20" x2="322.50" y2="703.20" stroke="#3a3a3a" stroke-width="0.55" />
<path d="M295.40 703.20L290.20 704.50L290.20 701.90Z" fill="#3a3a3a"/>
<path d="M310.20 703.20L315.40 701.90L315.40 704.50Z" fill="#3a3a3a"/>
<text x="333.00" y="702.40" font-size="7.9" fill="#333" text-anchor="start" >M12*P1.25</text>
<line x1="326.60" y1="704.50" x2="371.00" y2="704.50" stroke="#3a3a3a" stroke-width="0.55" />
<line x1="326.60" y1="704.50" x2="326.60" y2="743.80" stroke="#3a3a3a" stroke-width="0.55" />
<path d="M326.60 724.60L325.30 719.40L327.90 719.40Z" fill="#3a3a3a"/>
<path d="M326.60 731.50L327.90 736.70L325.30 736.70Z" fill="#3a3a3a"/>
<line x1="302.00" y1="721.70" x2="357.00" y2="721.70" stroke="#777" stroke-width="0.5" />
<line x1="302.00" y1="737.70" x2="357.00" y2="737.70" stroke="#777" stroke-width="0.5" />
<line x1="352.00" y1="714.30" x2="352.00" y2="746.30" stroke="#3a3a3a" stroke-width="0.55" />
<path d="M352.00 721.70L350.70 716.50L353.30 716.50Z" fill="#3a3a3a"/>
<path d="M352.00 737.70L353.30 742.90L350.70 742.90Z" fill="#3a3a3a"/>
<text x="349.30" y="727.80" font-size="7.5" fill="#333" text-anchor="middle" transform="rotate(-90 349.30 727.80)">17</text>
<line x1="290.50" y1="745.40" x2="290.50" y2="765.00" stroke="#3a3a3a" stroke-width="0.55" />
<line x1="295.40" y1="737.70" x2="295.40" y2="765.00" stroke="#3a3a3a" stroke-width="0.55" />
<line x1="279.40" y1="762.30" x2="315.00" y2="762.30" stroke="#3a3a3a" stroke-width="0.55" />
<path d="M290.50 762.30L285.30 763.60L285.30 761.00Z" fill="#3a3a3a"/>
<path d="M295.40 762.30L300.60 761.00L300.60 763.60Z" fill="#3a3a3a"/>
<text x="309.70" y="759.30" font-size="7.5" fill="#333" text-anchor="middle" >5.5</text>
<text x="434.00" y="545.30" font-size="8.2" fill="#e2262c" text-anchor="middle" stroke="#e2262c" stroke-width="0.2">A-A View</text>
<rect x="425.87" y="558.33" width="5.25" height="6.07" fill="none" stroke="#333" stroke-width="0.6"/>
<text x="432.01" y="564.40" font-size="8.2" fill="#333" text-anchor="start" >52</text>
<line x1="417.20" y1="564.50" x2="417.20" y2="594.00" stroke="#3a3a3a" stroke-width="0.55" />
<line x1="449.20" y1="564.50" x2="449.20" y2="594.00" stroke="#3a3a3a" stroke-width="0.55" />
<line x1="417.20" y1="566.70" x2="449.20" y2="566.70" stroke="#3a3a3a" stroke-width="0.55" />
<path d="M417.20 566.70L422.40 565.40L422.40 568.00Z" fill="#3a3a3a"/>
<path d="M449.20 566.70L444.00 568.00L444.00 565.40Z" fill="#3a3a3a"/>
<rect x="425.87" y="576.13" width="5.25" height="6.07" fill="none" stroke="#333" stroke-width="0.6"/>
<text x="432.01" y="582.20" font-size="8.2" fill="#333" text-anchor="start" >29</text>
<line x1="424.50" y1="580.00" x2="424.50" y2="595.00" stroke="#777" stroke-width="0.5" />
<line x1="442.40" y1="580.00" x2="442.40" y2="595.00" stroke="#777" stroke-width="0.5" />
<line x1="412.20" y1="584.20" x2="454.70" y2="584.20" stroke="#3a3a3a" stroke-width="0.55" />
<path d="M424.50 584.20L419.30 585.50L419.30 582.90Z" fill="#3a3a3a"/>
<path d="M442.40 584.20L447.60 582.90L447.60 585.50Z" fill="#3a3a3a"/>
<g transform="translate(433.3 610.4) scale(0.93) translate(-430.7 -245.4)">
<path d="M415.60 228.10L420.10 228.10L420.10 229.70L418.30 229.70L418.30 231.70L424.70 231.70L424.70 229.70L422.90 229.70L422.90 228.10L438.50 228.10L438.50 229.70L436.70 229.70L436.70 231.70L443.10 231.70L443.10 229.70L441.30 229.70L441.30 228.10L445.80 228.10Q448.00 228.10 448.00 230.30L448.00 234.80L446.40 234.80L446.40 233.00L444.40 233.00L444.40 239.40L446.40 239.40L446.40 237.60L448.00 237.60L448.00 253.20L446.40 253.20L446.40 251.40L444.40 251.40L444.40 257.80L446.40 257.80L446.40 256.00L448.00 256.00L448.00 260.50Q448.00 262.70 445.80 262.70L441.30 262.70L441.30 261.10L443.10 261.10L443.10 259.10L436.70 259.10L436.70 261.10L438.50 261.10L438.50 262.70L422.90 262.70L422.90 261.10L424.70 261.10L424.70 259.10L418.30 259.10L418.30 261.10L420.10 261.10L420.10 262.70L415.60 262.70Q413.40 262.70 413.40 260.50L413.40 256.00L415.00 256.00L415.00 257.80L417.00 257.80L417.00 251.40L415.00 251.40L415.00 253.20L413.40 253.20L413.40 237.60L415.00 237.60L415.00 239.40L417.00 239.40L417.00 233.00L415.00 233.00L415.00 234.80L413.40 234.80L413.40 230.30Q413.40 228.10 415.60 228.10Z" fill="#e6e6e8" stroke="#3c3c3c" stroke-width="0.85" />
<circle cx="430.70" cy="245.40" r="12.70" fill="#fff" stroke="#3c3c3c" stroke-width="1.0" />
<path d="M425.70 230.00 L435.70 230.00 L435.70 232.32 A14.0 14.0 0 0 0 425.70 232.32 Z" stroke="#555" stroke-width="0.55" fill="#fff"/>
<circle cx="416.00" cy="230.70" r="0.90" fill="#fff" stroke="#555" stroke-width="0.5" />
<path d="M446.10 240.40 L446.10 250.40 L443.78 250.40 A14.0 14.0 0 0 0 443.78 240.40 Z" stroke="#555" stroke-width="0.55" fill="#fff"/>
<circle cx="445.40" cy="230.70" r="0.90" fill="#fff" stroke="#555" stroke-width="0.5" />
<path d="M435.70 260.80 L425.70 260.80 L425.70 258.48 A14.0 14.0 0 0 0 435.70 258.48 Z" stroke="#555" stroke-width="0.55" fill="#fff"/>
<circle cx="445.40" cy="260.10" r="0.90" fill="#fff" stroke="#555" stroke-width="0.5" />
<path d="M415.30 250.40 L415.30 240.40 L417.62 240.40 A14.0 14.0 0 0 0 417.62 250.40 Z" stroke="#555" stroke-width="0.55" fill="#fff"/>
<circle cx="416.00" cy="260.10" r="0.90" fill="#fff" stroke="#555" stroke-width="0.5" />
<line x1="415.70" y1="245.40" x2="445.70" y2="245.40" stroke="#666" stroke-width="0.5" stroke-dasharray="3 1.5"/>
<line x1="430.70" y1="230.40" x2="430.70" y2="260.40" stroke="#666" stroke-width="0.5" stroke-dasharray="3 1.5"/>
</g>
<circle cx="448.50" cy="618.60" r="6.30" fill="none" stroke="#3aaee0" stroke-width="0.9" />
<text x="457.20" y="617.30" font-size="7.6" fill="#3aaee0" text-anchor="start" >B</text>
<text x="495.90" y="549.20" font-size="8.2" fill="#2aa8e0" text-anchor="middle" stroke="#2aa8e0" stroke-width="0.2">B View</text>
<g transform="translate(1 367.6)">
<text x="495.20" y="200.80" font-size="7.5" fill="#333" text-anchor="middle" >4.6</text>
<line x1="476.60" y1="205.70" x2="513.80" y2="205.70" stroke="#3a3a3a" stroke-width="0.55" />
<path d="M489.20 205.70L484.00 207.00L484.00 204.40Z" fill="#3a3a3a"/>
<path d="M501.20 205.70L506.40 204.40L506.40 207.00Z" fill="#3a3a3a"/>
<line x1="489.20" y1="203.00" x2="489.20" y2="272.00" stroke="#3a3a3a" stroke-width="0.55" />
<line x1="501.20" y1="203.00" x2="501.20" y2="225.50" stroke="#3a3a3a" stroke-width="0.55" />
<text x="528.50" y="214.40" font-size="7.5" fill="#333" text-anchor="middle" >2.3</text>
<line x1="489.20" y1="217.20" x2="540.80" y2="217.20" stroke="#3a3a3a" stroke-width="0.55" />
<path d="M501.20 217.20L496.00 218.50L496.00 215.90Z" fill="#3a3a3a"/>
<path d="M507.00 217.20L512.20 215.90L512.20 218.50Z" fill="#3a3a3a"/>
<line x1="507.00" y1="213.00" x2="507.00" y2="223.00" stroke="#3a3a3a" stroke-width="0.55" />
<path d="M507.1 230.3 L501.5 230.3 L501.5 227.5 L492.3 227.5 L489.5 231.4 L489.5 243.1 L492.3 247 L501.5 247 L501.5 244.6 L507.1 244.6 Z" fill="#e4e4e6" stroke="none"/>
<path d="M507.1 230.3 L501.5 230.3 L501.5 227.5 L492.3 227.5 L489.5 231.4 L489.5 243.1 L492.3 247 L501.5 247 L501.5 244.6 L507.1 244.6" fill="none" stroke="#3c3c3c" stroke-width="0.9"/>
<line x1="507.00" y1="223.00" x2="507.00" y2="250.00" stroke="#555" stroke-width="0.55" stroke-dasharray="1.5 1"/>
<line x1="504.00" y1="227.50" x2="548.50" y2="227.50" stroke="#3a3a3a" stroke-width="0.55" />
<line x1="504.00" y1="247.00" x2="548.50" y2="247.00" stroke="#3a3a3a" stroke-width="0.55" />
<line x1="510.00" y1="230.30" x2="536.00" y2="230.30" stroke="#3a3a3a" stroke-width="0.55" />
<line x1="510.00" y1="244.60" x2="536.00" y2="244.60" stroke="#3a3a3a" stroke-width="0.55" />
<line x1="534.60" y1="222.00" x2="534.60" y2="252.00" stroke="#3a3a3a" stroke-width="0.55" />
<path d="M534.60 230.30L533.30 225.10L535.90 225.10Z" fill="#3a3a3a"/>
<path d="M534.60 244.60L535.90 249.80L533.30 249.80Z" fill="#3a3a3a"/>
<text x="531.50" y="237.20" font-size="7.5" fill="#333" text-anchor="middle" transform="rotate(-90 531.50 237.20)">5.3</text>
<line x1="546.50" y1="215.40" x2="546.50" y2="259.00" stroke="#3a3a3a" stroke-width="0.55" />
<path d="M546.50 227.50L545.20 222.30L547.80 222.30Z" fill="#3a3a3a"/>
<path d="M546.50 247.00L547.80 252.20L545.20 252.20Z" fill="#3a3a3a"/>
<text x="543.20" y="237.20" font-size="7.5" fill="#333" text-anchor="middle" transform="rotate(-90 543.20 237.20)">7.3</text>
<line x1="473.50" y1="219.00" x2="473.50" y2="255.40" stroke="#3a3a3a" stroke-width="0.55" />
<path d="M473.50 231.50L472.20 226.30L474.80 226.30Z" fill="#3a3a3a"/>
<path d="M473.50 243.00L474.80 248.20L472.20 248.20Z" fill="#3a3a3a"/>
<line x1="473.50" y1="231.50" x2="489.00" y2="231.50" stroke="#666" stroke-width="0.5" />
<line x1="473.50" y1="243.00" x2="489.00" y2="243.00" stroke="#666" stroke-width="0.5" />
<text x="470.50" y="237.70" font-size="7.5" fill="#333" text-anchor="middle" transform="rotate(-90 470.50 237.70)">4.2</text>
<line x1="486.00" y1="237.20" x2="512.00" y2="237.20" stroke="#8a8a8a" stroke-width="0.6" stroke-dasharray="9 2.5 2 2.5"/>
<path d="M475.9 266.5 A24.5 24.5 0 0 0 512.8 255.5" fill="none" stroke="#444" stroke-width="0.55"/>
<path d="M489.20 271.00L484.07 272.56L483.94 269.96Z" fill="#3a3a3a"/>
<path d="M505.30 265.50L502.26 269.91L500.54 267.96Z" fill="#3a3a3a"/>
<line x1="493.00" y1="250.80" x2="506.50" y2="268.50" stroke="#3a3a3a" stroke-width="0.55" />
<text x="494.60" y="269.00" font-size="7.5" fill="#333" text-anchor="middle" >33°</text>
</g>
<rect x="427.37" y="679.43" width="5.25" height="6.07" fill="none" stroke="#333" stroke-width="0.6"/>
<text x="433.51" y="685.50" font-size="8.2" fill="#333" text-anchor="start" >52</text>
<line x1="415.80" y1="683.00" x2="415.80" y2="713.00" stroke="#3a3a3a" stroke-width="0.55" />
<line x1="449.20" y1="683.00" x2="449.20" y2="713.00" stroke="#3a3a3a" stroke-width="0.55" />
<line x1="415.80" y1="688.50" x2="449.20" y2="688.50" stroke="#3a3a3a" stroke-width="0.55" />
<path d="M415.80 688.50L421.00 687.20L421.00 689.80Z" fill="#3a3a3a"/>
<path d="M449.20 688.50L444.00 689.80L444.00 687.20Z" fill="#3a3a3a"/>
<rect x="427.37" y="692.53" width="5.25" height="6.07" fill="none" stroke="#333" stroke-width="0.6"/>
<text x="433.51" y="698.60" font-size="8.2" fill="#333" text-anchor="start" >42</text>
<line x1="419.20" y1="697.00" x2="419.20" y2="716.00" stroke="#666" stroke-width="0.5" />
<line x1="446.50" y1="697.00" x2="446.50" y2="716.00" stroke="#666" stroke-width="0.5" />
<line x1="419.20" y1="703.50" x2="446.50" y2="703.50" stroke="#3a3a3a" stroke-width="0.55" />
<path d="M419.20 703.50L424.40 702.20L424.40 704.80Z" fill="#3a3a3a"/>
<path d="M446.50 703.50L441.30 704.80L441.30 702.20Z" fill="#3a3a3a"/>
<g transform="translate(449.2 712.7) scale(-0.933 0.96) translate(-434.5 -351.8)">
<path d="M401.9 351.8 H434.5 V384.7 H401.9 Q399.9 384.7 399.9 382.7 V375.7 H396.5 V360.2 H399.9 V353.8 Q399.9 351.8 401.9 351.8 Z" fill="#efeff0" stroke="#3c3c3c" stroke-width="0.85" />
<path d="M427.6 355.3 V376.5 L423 381 H403.4 L401 378.5 V375.7 H396.5 V360.2 H404.5 L407.5 355.3 Z" fill="#e3e3e5" stroke="#3c3c3c" stroke-width="0.8" />
<circle cx="404.00" cy="357.60" r="1.00" fill="#fff" stroke="#555" stroke-width="0.5" />
<circle cx="424.90" cy="378.80" r="1.00" fill="#fff" stroke="#555" stroke-width="0.5" />
<line x1="429.70" y1="351.80" x2="429.70" y2="384.70" stroke="#888" stroke-width="0.6" />
<rect x="391.70" y="364.20" width="4.80" height="7.00" fill="#e8e9eb" stroke="#3c3c3c" stroke-width="0.7" />
<rect x="383.20" y="365.50" width="8.50" height="4.60" fill="#e8e9eb" stroke="#3c3c3c" stroke-width="0.7" />
</g>
<rect x="415.8" y="712.7" width="33.4" height="32.3" rx="2" fill="#e2e2e4" stroke="#474747" stroke-width="0.9"/>
<circle cx="432.60" cy="728.80" r="13.20" fill="#ececee" stroke="#888" stroke-width="0.5" />
<circle cx="432.60" cy="728.80" r="11.40" fill="#e4e4e6" stroke="#3c3c3c" stroke-width="0.8" />
<circle cx="432.60" cy="728.80" r="8.90" fill="#efeff1" stroke="#888" stroke-width="0.5" />
<circle cx="432.60" cy="728.80" r="5.00" fill="#e6e6e8" stroke="#3c3c3c" stroke-width="0.8" />
<circle cx="432.60" cy="728.80" r="2.80" fill="#fff" stroke="#3c3c3c" stroke-width="0.7" />
<circle cx="446.90" cy="732.63" r="1.30" fill="none" stroke="#999" stroke-width="0.4" />
<circle cx="443.07" cy="739.27" r="1.30" fill="none" stroke="#999" stroke-width="0.4" />
<circle cx="436.43" cy="743.10" r="1.30" fill="none" stroke="#999" stroke-width="0.4" />
<circle cx="428.77" cy="743.10" r="1.30" fill="none" stroke="#999" stroke-width="0.4" />
<circle cx="422.13" cy="739.27" r="1.30" fill="none" stroke="#999" stroke-width="0.4" />
<circle cx="418.30" cy="732.63" r="1.30" fill="none" stroke="#999" stroke-width="0.4" />
<circle cx="418.30" cy="724.97" r="1.30" fill="none" stroke="#999" stroke-width="0.4" />
<circle cx="422.13" cy="718.33" r="1.30" fill="none" stroke="#999" stroke-width="0.4" />
<circle cx="428.77" cy="714.50" r="1.30" fill="none" stroke="#999" stroke-width="0.4" />
<circle cx="436.43" cy="714.50" r="1.30" fill="none" stroke="#999" stroke-width="0.4" />
<circle cx="443.07" cy="718.33" r="1.30" fill="none" stroke="#999" stroke-width="0.4" />
<circle cx="446.90" cy="724.97" r="1.30" fill="none" stroke="#999" stroke-width="0.4" />
<circle cx="418.70" cy="715.60" r="1.10" fill="#555" stroke="#3c3c3c" stroke-width="0" />
<circle cx="446.30" cy="715.60" r="1.10" fill="#555" stroke="#3c3c3c" stroke-width="0" />
<circle cx="418.70" cy="742.00" r="1.10" fill="#555" stroke="#3c3c3c" stroke-width="0" />
<circle cx="446.30" cy="742.00" r="1.10" fill="#555" stroke="#3c3c3c" stroke-width="0" />
<line x1="405.00" y1="728.80" x2="505.00" y2="728.80" stroke="#8a8a8a" stroke-width="0.6" stroke-dasharray="9 2.5 2 2.5"/>
<line x1="432.60" y1="708.00" x2="432.60" y2="749.00" stroke="#888" stroke-width="0.5" stroke-dasharray="3 1.5"/>
<line x1="466.50" y1="708.00" x2="466.50" y2="749.00" stroke="#888" stroke-width="0.5" stroke-dasharray="3 1.5"/>
<path d="M448 743.8 L458.5 759.5 L493 759.5" fill="none" stroke="#444" stroke-width="0.6"/>
<path d="M448.00 743.80L450.85 746.11L449.02 747.33Z" fill="#3a3a3a"/>
<text x="459.60" y="757.20" font-size="7.6" fill="#333" text-anchor="start" >4-M4</text>
<path d="M477.41 751.90 H481.01 M477.51 752.90 H480.91 L479.21 757.00 Z" fill="#333" stroke="#333" stroke-width="0.5"/>
<text x="481.71" y="757.20" font-size="7.6" fill="#333" text-anchor="start" >12</text>
</g>
</svg>

</body></html>
